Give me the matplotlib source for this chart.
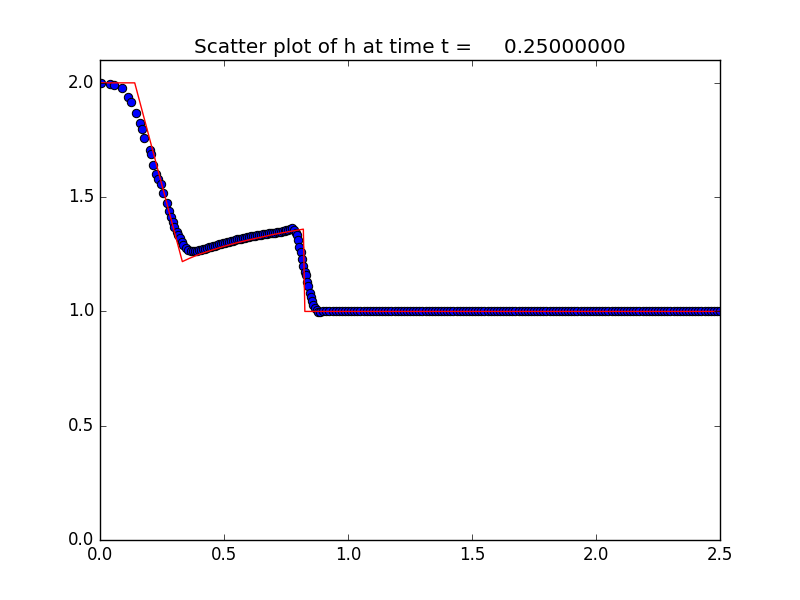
import matplotlib
matplotlib.use('Agg')
import matplotlib.pyplot as plt

plt.style.use('classic')

t = 0.25

# computed solution: dam-break slope
x_slope = [0.004, 0.04, 0.058, 0.09, 0.114, 0.125, 0.146, 0.163, 0.168, 0.179,
           0.2, 0.204, 0.212, 0.226, 0.235, 0.245, 0.255, 0.269, 0.28, 0.286,
           0.293, 0.3, 0.309, 0.316, 0.323, 0.329, 0.336, 0.345, 0.356, 0.366, 0.376]
h_slope = [2.0, 1.995, 1.99, 1.976, 1.94, 1.918, 1.87, 1.823, 1.80, 1.76,
           1.706, 1.69, 1.64, 1.60, 1.578, 1.556, 1.52, 1.473, 1.44, 1.414,
           1.393, 1.37, 1.349, 1.335, 1.32, 1.305, 1.29, 1.278, 1.269, 1.265, 1.264]

# middle state
x_mid = [0.384, 0.392, 0.400, 0.408, 0.416, 0.424, 0.432, 0.440, 0.448, 0.456,
         0.464, 0.472, 0.480, 0.488, 0.496, 0.504, 0.512, 0.520, 0.528, 0.536,
         0.544, 0.552, 0.560, 0.568, 0.576, 0.584, 0.592, 0.600, 0.608, 0.616,
         0.624, 0.632, 0.640, 0.648, 0.656, 0.664, 0.672, 0.680, 0.688, 0.696,
         0.704, 0.712, 0.720, 0.728, 0.736, 0.744, 0.752, 0.760, 0.768, 0.776,
         0.784]
h_mid = [1.264, 1.265, 1.267, 1.269, 1.272, 1.274, 1.277, 1.280, 1.283, 1.286,
         1.288, 1.291, 1.293, 1.295, 1.298, 1.300, 1.302, 1.305, 1.307, 1.309,
         1.312, 1.315, 1.317, 1.319, 1.321, 1.323, 1.325, 1.327, 1.328, 1.330,
         1.331, 1.333, 1.334, 1.336, 1.337, 1.338, 1.339, 1.341, 1.342, 1.343,
         1.345, 1.346, 1.347, 1.349, 1.350, 1.352, 1.355, 1.358, 1.362, 1.363,
         1.358]

# shock
x_shock = [0.789, 0.793, 0.8, 0.804, 0.81, 0.815, 0.82, 0.827, 0.83, 0.836,
           0.84, 0.847, 0.85, 0.855, 0.86, 0.867, 0.873, 0.88, 0.888]
h_shock = [1.345, 1.335, 1.313, 1.283, 1.261, 1.23, 1.2, 1.174, 1.159, 1.13,
           1.111, 1.082, 1.062, 1.045, 1.03, 1.014, 1.005, 0.998, 0.996]

# undisturbed right state
x_tail = [0.9, 0.9125, 0.925, 0.9375, 0.95, 0.9625, 0.975, 0.9875,
          1.0, 1.0125, 1.025, 1.0375, 1.05, 1.0625, 1.075, 1.0875,
          1.1, 1.1125, 1.125, 1.1375, 1.15, 1.1625, 1.175, 1.1875,
          1.2, 1.2125, 1.225, 1.2375, 1.25, 1.2625, 1.275, 1.2875,
          1.3, 1.3125, 1.325, 1.3375, 1.35, 1.3625, 1.375, 1.3875,
          1.4, 1.4125, 1.425, 1.4375, 1.45, 1.4625, 1.475, 1.4875,
          1.5, 1.5125, 1.525, 1.5375, 1.55, 1.5625, 1.575, 1.5875,
          1.6, 1.6125, 1.625, 1.6375, 1.65, 1.6625, 1.675, 1.6875,
          1.7, 1.7125, 1.725, 1.7375, 1.75, 1.7625, 1.775, 1.7875,
          1.8, 1.8125, 1.825, 1.8375, 1.85, 1.8625, 1.875, 1.8875,
          1.9, 1.9125, 1.925, 1.9375, 1.95, 1.9625, 1.975, 1.9875,
          2.0, 2.0125, 2.025, 2.0375, 2.05, 2.0625, 2.075, 2.0875,
          2.1, 2.1125, 2.125, 2.1375, 2.15, 2.1625, 2.175, 2.1875,
          2.2, 2.2125, 2.225, 2.2375, 2.25, 2.2625, 2.275, 2.2875,
          2.3, 2.3125, 2.325, 2.3375, 2.35, 2.3625, 2.375, 2.3875,
          2.4, 2.4125, 2.425, 2.4375, 2.45, 2.4625, 2.475, 2.4875, 2.5]
h_tail = [1.0] * len(x_tail)

# exact (reference) solution
x_exact = [0.0, 0.14, 0.332, 0.36, 0.4, 0.45, 0.5, 0.55, 0.6, 0.65,
           0.7, 0.75, 0.82, 0.826, 2.5]
h_exact = [2.0, 2.0, 1.218, 1.232, 1.250, 1.268, 1.285, 1.300, 1.313, 1.325,
           1.337, 1.347, 1.36, 1.0, 1.0]

x = x_slope + x_mid + x_shock + x_tail
h = h_slope + h_mid + h_shock + h_tail

fig = plt.figure(figsize=(8, 6), dpi=100)
ax = fig.add_subplot(111)
ax.plot(x, h, 'bo', markersize=6, markeredgecolor='k', markeredgewidth=0.75)
ax.plot(x_exact, h_exact, 'r', linewidth=1.0)
ax.set_xlim(0, 2.5)
ax.set_ylim(0, 2.1)
ax.set_title('Scatter plot of h at time t = %14.8f' % t)

fig.savefig('out.png', dpi=100, facecolor='white')
